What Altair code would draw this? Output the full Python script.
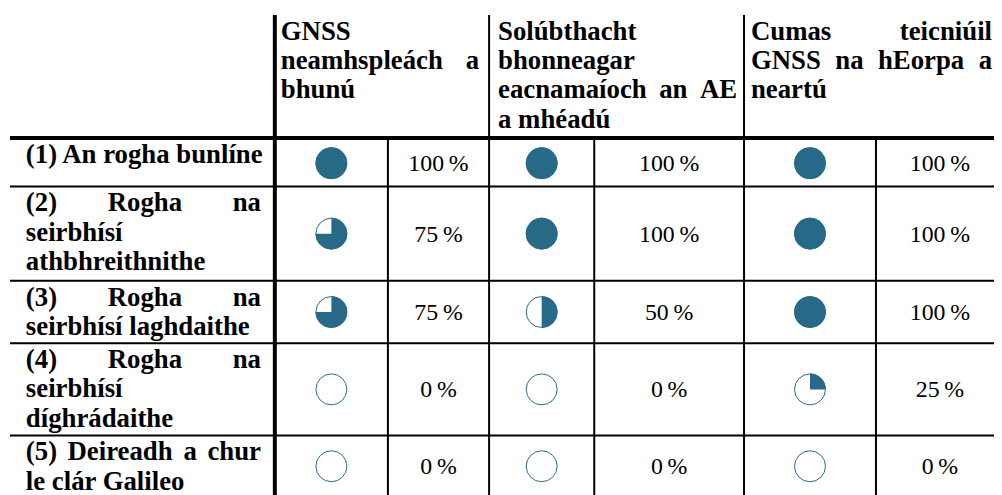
import altair as alt
import pandas as pd

# ---------------- data ----------------
option_labels = [
    ["(1) An rogha bunlíne"],
    ["(2) Rogha na", "seirbhísí", "athbhreithnithe"],
    ["(3) Rogha na", "seirbhísí laghdaithe"],
    ["(4) Rogha na", "seirbhísí", "díghrádaithe"],
    ["(5) Deireadh a chur", "le clár Galileo"],
]
objective_labels = [
    ["GNSS", "neamhspleách a", "bhunú"],
    ["Solúbthacht", "bhonneagar", "eacnamaíoch an AE", "a mhéadú"],
    ["Cumas teicniúil", "GNSS na hEorpa a", "neartú"],
]
score_independent = [100, 75, 75, 0, 0]
score_resilience = [100, 100, 50, 0, 0]
score_capability = [100, 100, 100, 25, 0]
scores = [score_independent, score_resilience, score_capability]

# ---------------- layout (page pixels) ----------------
COL_EDGES = [10, 277, 391, 493, 599, 750, 883, 1012]
ROW_LINES = [137, 186, 281, 344, 437, 499]
HEADER_TOP = 13
LABEL_AREA = (26, 263)
HEADER_AREAS = [(283, 483), (502, 743), (757, 1000)]
HEADER_BASE0 = 38
LINE_H = 29.5
LABEL_OFFSET = 25
BALL = "#266a87"
FONT = "Times New Roman, Liberation Serif, Tinos, serif"
BOLD_SIZE = 27
PCT_SIZE = 24

W_BOLD = {' ': 250, '(': 333, ')': 333, 'A': 722, 'E': 667, 'G': 778, 'N': 722,
          'S': 556, 'D': 722, 'R': 722, 'C': 722,
          'a': 500, 'b': 556, 'c': 444, 'd': 556, 'e': 444, 'g': 500, 'h': 556,
          'i': 278, 'l': 278, 'm': 833, 'n': 556, 'o': 500, 'p': 556, 'r': 444,
          's': 389, 't': 333, 'u': 556, 'á': 500, 'é': 444, 'í': 278, 'ó': 500,
          'ú': 556}


def tw(s, size=BOLD_SIZE):
    return sum(W_BOLD.get(c, 500) for c in s) / 1000 * size


def para(lines, left, right, base0):
    out = []
    for i, line in enumerate(lines):
        y = base0 + i * LINE_H
        words = line.split(" ")
        justify = i < len(lines) - 1 and len(words) > 1
        if not justify:
            out.append(dict(x=left, y=y, text=line, anchor="left"))
            continue
        total = sum(tw(w) for w in words)
        gap = (right - left - total) / (len(words) - 1)
        pos = left
        for j, w in enumerate(words):
            if j == len(words) - 1:
                out.append(dict(x=right, y=y, text=w, anchor="right"))
            else:
                out.append(dict(x=pos, y=y, text=w, anchor="left"))
            pos += tw(w) + gap
    return out


words = []
for k, lines in enumerate(objective_labels):
    l, r = HEADER_AREAS[k]
    words += para(lines, l, r, HEADER_BASE0)
for k, lines in enumerate(option_labels):
    words += para(lines, LABEL_AREA[0], LABEL_AREA[1], ROW_LINES[k] + LABEL_OFFSET)
words_df = pd.DataFrame(words)

# table rules
rules = []
right_end = COL_EDGES[-1]
rules.append(dict(x=COL_EDGES[0], x2=right_end, y=ROW_LINES[0], y2=ROW_LINES[0], w=4))
for yl in ROW_LINES[1:-1]:
    rules.append(dict(x=COL_EDGES[0], x2=right_end, y=yl, y2=yl, w=2))
bottom = ROW_LINES[-1]
rules.append(dict(x=COL_EDGES[1], x2=COL_EDGES[1], y=HEADER_TOP, y2=bottom, w=4))
for xi in (3, 5):
    rules.append(dict(x=COL_EDGES[xi], x2=COL_EDGES[xi], y=HEADER_TOP, y2=bottom, w=2))
for xi in (2, 4, 6):
    rules.append(dict(x=COL_EDGES[xi], x2=COL_EDGES[xi], y=ROW_LINES[0] + 2, y2=bottom, w=2))
rules_df = pd.DataFrame(rules)

# balls and percentages
row_top = [ROW_LINES[0] + 2] + ROW_LINES[1:-1]
row_bot = ROW_LINES[1:]
cells = []
for k, vals in enumerate(scores):
    bx = (COL_EDGES[1 + 2 * k] + COL_EDGES[2 + 2 * k]) / 2
    px = (COL_EDGES[2 + 2 * k] + COL_EDGES[3 + 2 * k]) / 2
    for r, v in enumerate(vals):
        cy = (row_top[r] + row_bot[r]) / 2
        cells.append(dict(bx=bx, px=px, y=cy, value=v, label=f"{v}\u2009%"))
cells_df = pd.DataFrame(cells)

xs = alt.Scale(domain=[8, 1002], nice=False, zero=False)
ys = alt.Scale(domain=[8, 495], nice=False, zero=False, reverse=True)

rule_layer = alt.Chart(rules_df).mark_rule(color="black", strokeCap="butt").encode(
    x=alt.X("x:Q", scale=xs, axis=None),
    x2="x2:Q",
    y=alt.Y("y:Q", scale=ys, axis=None),
    y2="y2:Q",
    strokeWidth=alt.StrokeWidth("w:Q", scale=None),
)

ball_base = alt.Chart(cells_df).transform_calculate(
    t0="0", t1="datum.value / 100 * 2 * PI", full="2 * PI"
)
fill_layer = ball_base.mark_arc(radius=16, color=BALL).encode(
    x=alt.X("bx:Q", scale=xs, axis=None),
    y=alt.Y("y:Q", scale=ys, axis=None),
    theta=alt.Theta("t0:Q", scale=None, stack=False),
    theta2=alt.Theta2("t1:Q"),
)
outline_layer = ball_base.mark_arc(radius=15.6, filled=False, stroke=BALL, strokeWidth=1).encode(
    x=alt.X("bx:Q", scale=xs, axis=None),
    y=alt.Y("y:Q", scale=ys, axis=None),
    theta=alt.Theta("t0:Q", scale=None, stack=False),
    theta2=alt.Theta2("full:Q"),
)
pct_layer = alt.Chart(cells_df).mark_text(
    font=FONT, fontSize=PCT_SIZE, color="black", align="center", baseline="middle", dy=1
).encode(
    x=alt.X("px:Q", scale=xs, axis=None),
    y=alt.Y("y:Q", scale=ys, axis=None),
    text="label:N",
)


def word_layer(anchor):
    return alt.Chart(words_df).transform_filter(
        alt.datum.anchor == anchor
    ).mark_text(
        font=FONT, fontSize=BOLD_SIZE, fontWeight="bold", color="black",
        align=anchor, baseline="alphabetic"
    ).encode(
        x=alt.X("x:Q", scale=xs, axis=None),
        y=alt.Y("y:Q", scale=ys, axis=None),
        text="text:N",
    )


chart = alt.layer(
    rule_layer, fill_layer, outline_layer, pct_layer,
    word_layer("left"), word_layer("right"),
).properties(
    width=994, height=487,
    autosize=alt.AutoSizeParams(type="none"),
    padding=0,
    background="white",
).configure_view(stroke=None)

chart.save("out.html", embed_options={"renderer": "svg", "actions": False})
